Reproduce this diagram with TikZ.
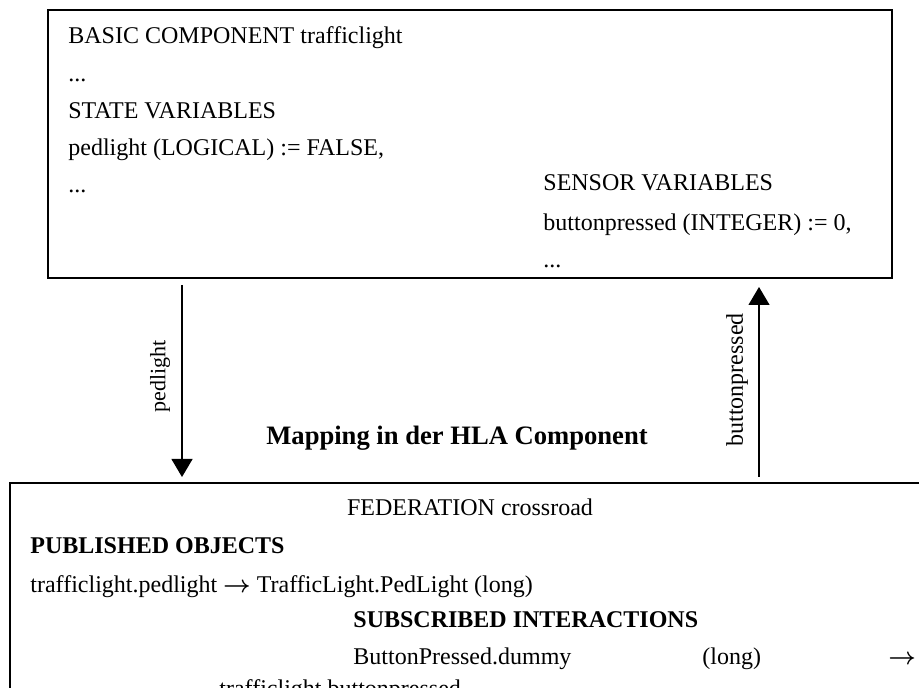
\documentclass[tikz,border=0pt]{standalone}
\usepackage{fontspec}
\setmainfont{Liberation Serif}
\usetikzlibrary{arrows.meta}

\def\px{0.5pt}
\def\toarr{{\boldmath$\rightarrow$}}

\tikzset{
  box/.style={draw, line width=1pt, inner sep=0pt},
  txt/.style={anchor=base west, inner sep=0pt, font=\fontsize{12pt}{14pt}\selectfont},
  btxt/.style={txt, font=\fontsize{12pt}{14pt}\selectfont\bfseries},
  flow/.style={line width=0.6pt, -{Triangle[length=9pt,width=10.5pt]}},
}

\begin{document}
\begin{tikzpicture}[x=\px,y=-\px]
\useasboundingbox (0,0) rectangle (919,688);
\clip (0,0) rectangle (919,688);
% basic component
\node (bc) [box, minimum width=422pt, minimum height=134pt] at (470,144) {};
\node (bcname) [txt] at (68,44) {BASIC COMPONENT trafficlight};
\node (bcdots) [txt] at (68,82) {...};
\node (stvars) [txt] at (68,119) {STATE VARIABLES};
\node (pedvar) [txt] at (68,156) {pedlight (LOGICAL) := FALSE,};
\node (stdots) [txt] at (68,193) {...};
\node (snvars) [txt] at (543,191) {SENSOR VARIABLES};
\node (btnvar) [txt] at (543,231) {buttonpressed (INTEGER) := 0,};
\node (sndots) [txt] at (543,268) {...};
% federation (cut off at the bottom)
\node (fed) [box, minimum width=500pt, minimum height=208.5pt] at (510,691.5) {};
\node (fedname) [txt, anchor=base] at (470,516) {FEDERATION crossroad};
\node (pubobj) [btxt] at (30,553) {PUBLISHED OBJECTS};
\node (pubmap) [txt] at (30,592) {trafficlight.pedlight \toarr{} TrafficLight.PedLight (long)};
\node (subint) [btxt] at (353,627) {SUBSCRIBED INTERACTIONS};
\node (subdummy) [txt] at (353,664) {ButtonPressed.dummy};
\node (sublong) [txt] at (702,664) {(long)};
\node (subarr) [txt] at (888,664) {\toarr};
\node (subtarget) [txt] at (219,696) {trafficlight.buttonpressed};
% mapping
\node (title) [anchor=base, inner sep=0pt, font=\fontsize{13.3pt}{15pt}\selectfont\bfseries]
  at (457,445) {Mapping in der HLA Component};
\coordinate (plsrc) at (182,285);
\coordinate (pldst) at (182,477);
\coordinate (bpsrc) at (759,477);
\coordinate (bpdst) at (759,287);
\draw [flow] (plsrc) -- (pldst);
\draw [flow] (bpsrc) -- (bpdst);
\node (pllabel) [rotate=90, inner sep=0pt, font=\fontsize{11pt}{13pt}\selectfont] at (160,376) {pedlight};
\node (bplabel) [rotate=90, inner sep=0pt, font=\fontsize{12pt}{14pt}\selectfont] at (737,380) {buttonpressed};
\end{tikzpicture}
\end{document}
